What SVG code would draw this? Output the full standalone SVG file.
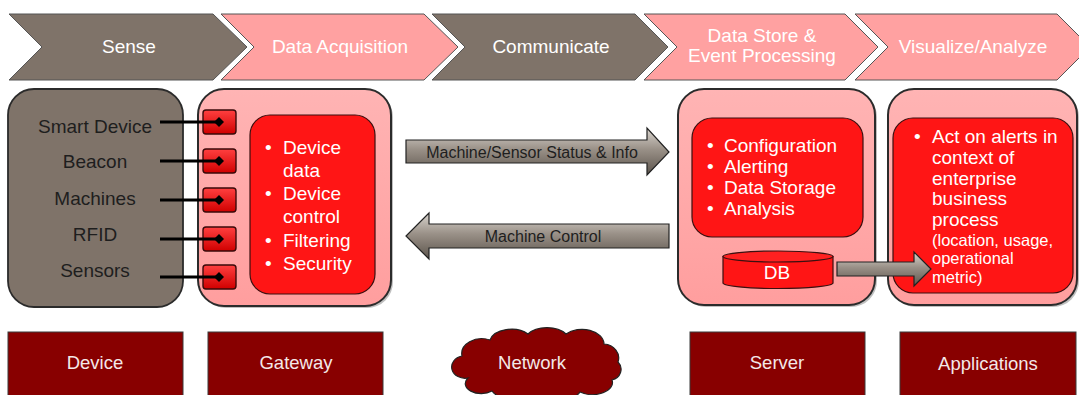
<svg xmlns="http://www.w3.org/2000/svg" width="1079" height="395" viewBox="0 0 1079 395">
<defs>
<style>
text{font-family:"Liberation Sans",Arial,sans-serif}
.chg{fill:#7F7369;stroke:#555;stroke-width:1}
.chp{fill:#FFA1A1;stroke:#555;stroke-width:1}
.cht{fill:#fff;font-size:19px;text-anchor:middle}
.pan{fill:url(#pink);stroke:#2b2b2b;stroke-width:2}
.inner{fill:#FF1515;stroke:#3a1010;stroke-width:1.2}
.wt{fill:#fff;font-size:19px}
.dt{fill:#1e1e1e;font-size:19px;text-anchor:middle}
.port{fill:url(#red);stroke:#3a0a0a;stroke-width:1.4}
.arr{fill:url(#metal);stroke:#222;stroke-width:1.2}
.at{fill:#1e1e1e;font-size:16px;text-anchor:middle}
.bb{fill:#880000;stroke:#3a3a3a;stroke-width:1}
.bt{fill:#F4E8E8;font-size:18.5px;text-anchor:middle}
.wire{stroke:#000;stroke-width:2.8;fill:none}
.shadow{fill:#000;opacity:0.25}
</style>
<linearGradient id="pink" x1="0" y1="0" x2="0" y2="1">
<stop offset="0" stop-color="#FFB4B4"/><stop offset="1" stop-color="#FF9E9E"/>
</linearGradient>
<linearGradient id="red" x1="0" y1="0" x2="0" y2="1">
<stop offset="0" stop-color="#FF4040"/><stop offset="1" stop-color="#D00000"/>
</linearGradient>
<linearGradient id="metal" x1="0" y1="0" x2="0" y2="1">
<stop offset="0" stop-color="#D9D4CE"/><stop offset="0.45" stop-color="#9A9188"/><stop offset="1" stop-color="#5C544C"/>
</linearGradient>
<marker id="dia" viewBox="-6 -6 12 12" markerWidth="12" markerHeight="12" refX="0" refY="0" markerUnits="userSpaceOnUse" orient="auto">
<path d="M-5,0 L0,-5 L5,0 L0,5 Z" fill="#000"/>
</marker>
</defs>
<rect width="1079" height="395" fill="#fff"/>

<g id="chevrons">
<g id="ch-sense"><path class="chg" d="M9,14 L213,14 L247,47 L213,80 L9,80 L42,47 Z"/><text class="cht" x="129" y="53">Sense</text></g>
<g id="ch-acq"><path class="chp" d="M221,14 L424,14 L458,47 L424,80 L221,80 L254,47 Z"/><text class="cht" x="340" y="53">Data Acquisition</text></g>
<g id="ch-comm"><path class="chg" d="M432,14 L635,14 L668,47 L635,80 L432,80 L465,47 Z"/><text class="cht" x="551" y="53">Communicate</text></g>
<g id="ch-store"><path class="chp" d="M644,14 L845,14 L878,47 L845,80 L644,80 L677,47 Z"/><text class="cht" x="762" y="42">Data Store &amp;</text><text class="cht" x="762" y="62">Event Processing</text></g>
<g id="ch-vis"><path class="chp" d="M855,14 L1057,14 L1090,47 L1057,80 L855,80 L888,47 Z"/><text class="cht" x="973" y="53">Visualize/Analyze</text></g>
</g>

<g id="device-panel">
<rect x="8" y="89" width="175" height="218" rx="26" fill="#7F7369" stroke="#2b2b2b" stroke-width="1.8"/>
<text class="dt" x="95" y="133">Smart Device</text>
<text class="dt" x="95" y="168">Beacon</text>
<text class="dt" x="95" y="205">Machines</text>
<text class="dt" x="95" y="241">RFID</text>
<text class="dt" x="95" y="277">Sensors</text>
</g>

<g id="gateway-panel">
<rect class="shadow" x="200" y="91" width="193" height="217" rx="26"/>
<rect class="pan" x="198" y="89" width="193" height="217" rx="26"/>
<rect class="port" x="203" y="110" width="33" height="24" rx="3"/>
<rect class="port" x="203" y="149" width="33" height="24" rx="3"/>
<rect class="port" x="203" y="188" width="33" height="24" rx="3"/>
<rect class="port" x="203" y="227" width="33" height="24" rx="3"/>
<rect class="port" x="203" y="265" width="33" height="24" rx="3"/>
<rect class="inner" x="250" y="115" width="125" height="179" rx="20"/>
<text class="wt"><tspan x="265" y="154">•</tspan><tspan x="283" y="154">Device</tspan><tspan x="283" y="177">data</tspan><tspan x="265" y="200">•</tspan><tspan x="283" y="200">Device</tspan><tspan x="283" y="223">control</tspan><tspan x="265" y="247">•</tspan><tspan x="283" y="247">Filtering</tspan><tspan x="265" y="270">•</tspan><tspan x="283" y="270">Security</tspan></text>
</g>

<g id="server-panel">
<rect class="shadow" x="680" y="91" width="197" height="216" rx="26"/>
<rect class="pan" x="678" y="89" width="197" height="216" rx="26"/>
<rect class="inner" x="692" y="118" width="171" height="119" rx="20"/>
<text class="wt"><tspan x="707" y="152">•</tspan><tspan x="724" y="152">Configuration</tspan><tspan x="707" y="173">•</tspan><tspan x="724" y="173">Alerting</tspan><tspan x="707" y="194">•</tspan><tspan x="724" y="194">Data Storage</tspan><tspan x="707" y="215">•</tspan><tspan x="724" y="215">Analysis</tspan></text>
<g id="db">
<path d="M723,256.5 L723,283 A55,5.5 0 0 0 833,283 L833,256.5 Z" fill="#FF1515" stroke="#3a1010" stroke-width="1.2"/>
<ellipse cx="778" cy="256.5" rx="55" ry="5.5" fill="#FF2020" stroke="#3a1010" stroke-width="1.2"/>
<text x="777" y="279" fill="#fff" font-size="19" text-anchor="middle">DB</text>
</g>
</g>

<g id="applications-panel">
<rect class="shadow" x="890" y="91" width="189" height="216" rx="26"/>
<rect class="pan" x="888" y="89" width="189" height="216" rx="26"/>
<rect class="inner" x="893" y="118" width="180" height="175" rx="20"/>
<text class="wt"><tspan x="914" y="143">•</tspan><tspan x="932" y="143">Act on alerts in</tspan><tspan x="932" y="164">context of</tspan><tspan x="932" y="185">enterprise</tspan><tspan x="932" y="205">business</tspan><tspan x="932" y="226">process</tspan></text>
<text fill="#fff" font-size="16.5"><tspan x="932" y="246">(location, usage,</tspan><tspan x="932" y="264">operational</tspan><tspan x="932" y="283">metric)</tspan></text>
</g>

<g id="connectors">
<line class="wire" x1="160" y1="122" x2="219" y2="122" marker-end="url(#dia)"/>
<line class="wire" x1="160" y1="161" x2="219" y2="161" marker-end="url(#dia)"/>
<line class="wire" x1="160" y1="200" x2="219" y2="200" marker-end="url(#dia)"/>
<line class="wire" x1="160" y1="239" x2="219" y2="239" marker-end="url(#dia)"/>
<line class="wire" x1="160" y1="277" x2="219" y2="277" marker-end="url(#dia)"/>
<g id="arrow-status">
<path class="arr" d="M406,140 L647,140 L647,128 L669,152 L647,175 L647,163 L406,163 Z"/>
<text class="at" x="532" y="158">Machine/Sensor Status &amp; Info</text>
</g>
<g id="arrow-control">
<path class="arr" d="M669,224 L429,224 L429,213 L406,236 L429,259 L429,248 L669,248 Z"/>
<text class="at" x="543" y="242">Machine Control</text>
</g>
<g id="arrow-db">
<path class="arr" d="M837,262 L914,262 L914,252 L931,269 L914,286 L914,276 L837,276 Z"/>
</g>
</g>

<g id="bottom-labels">
<g id="lbl-device"><rect class="bb" x="8" y="332" width="175" height="70"/><text class="bt" x="95" y="369">Device</text></g>
<g id="lbl-gateway"><rect class="bb" x="208" y="332" width="175" height="70"/><text class="bt" x="296" y="369">Gateway</text></g>
<g id="lbl-network">
<path d="M468,378 A13,11 0 0 1 462,356 A20,15 0 0 1 490,340 A22,14 0 0 1 528,334 A22,13 0 0 1 566,334 A22,15 0 0 1 604,344 A16,14 0 0 1 618,362 A12,11 0 0 1 612,380 A20,12 0 0 1 580,392 A26,12 0 0 1 535,396 A26,12 0 0 1 492,391 A16,10 0 0 1 468,378 Z" fill="#880000" stroke="#222" stroke-width="1.2"/>
<text class="bt" x="532" y="369" font-size="21">Network</text>
</g>
<g id="lbl-server"><rect class="bb" x="690" y="332" width="175" height="70"/><text class="bt" x="777" y="369">Server</text></g>
<g id="lbl-apps"><rect class="bb" x="900" y="332" width="176" height="70"/><text class="bt" x="988" y="370" font-size="21.5">Applications</text></g>
</g>
</svg>
